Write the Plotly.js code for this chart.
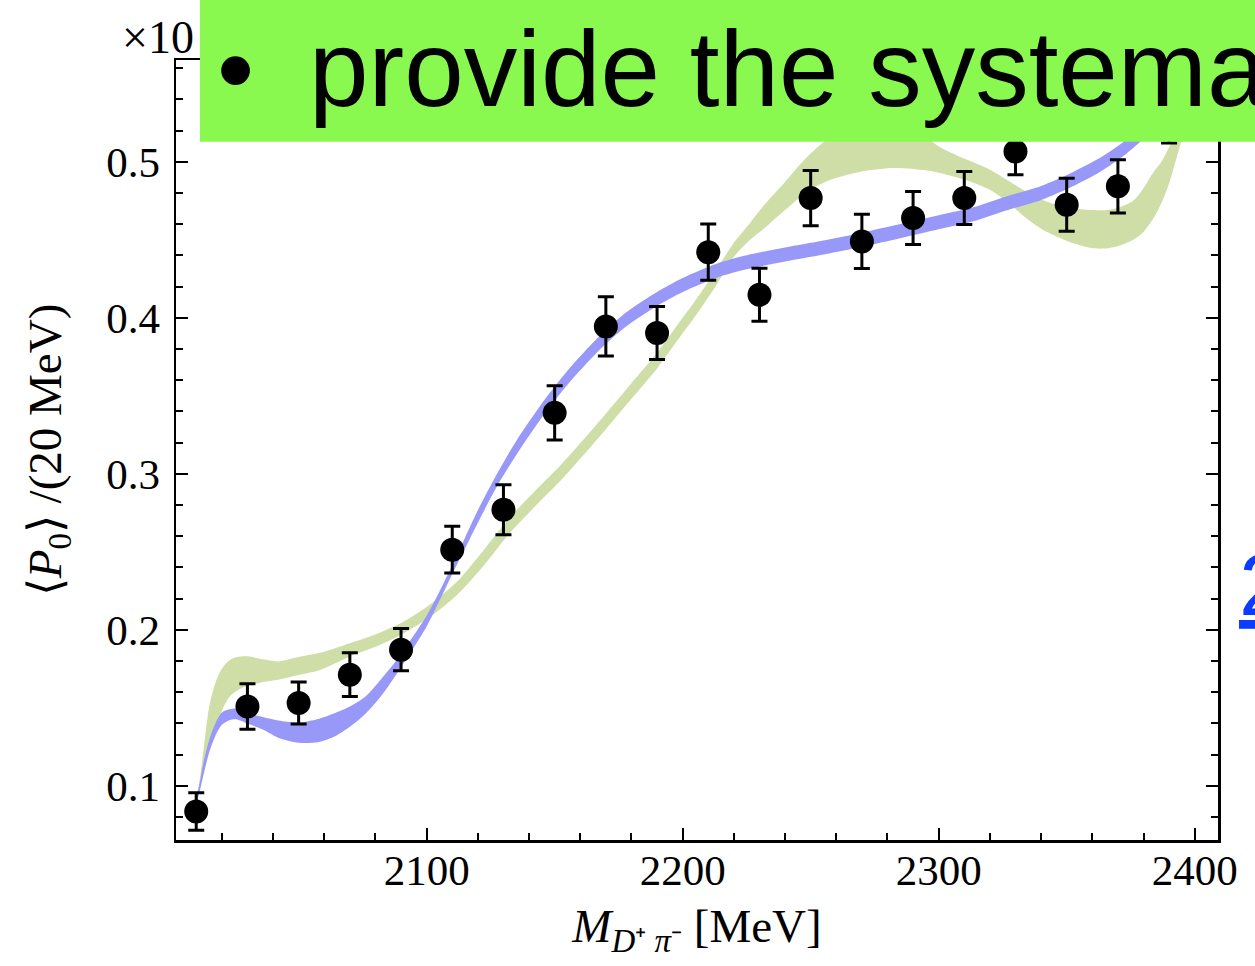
<!DOCTYPE html>
<html>
<head>
<meta charset="utf-8">
<script src="https://cdn.plot.ly/plotly-3.0.1.min.js"></script>
<style>
html, body { margin: 0; padding: 0; background: #ffffff; }
#chart { width: 1255px; height: 966px; }
</style>
</head>
<body>
<div id="chart"></div>
<script>
// ---- data points (invariant mass bins, <P0> per 20 MeV) ----
const massPoints = [2010, 2030, 2050, 2070, 2090, 2110, 2130, 2150, 2170, 2190,
                    2210, 2230, 2250, 2270, 2290, 2310, 2330, 2350, 2370, 2390];
const p0Values = [0.0835, 0.1508, 0.1530, 0.1712, 0.1872, 0.2513, 0.2769, 0.3390, 0.3944, 0.3902,
                  0.4420, 0.4147, 0.4767, 0.4489, 0.4639, 0.4767, 0.5066, 0.4724, 0.4842, 0.5290];
const p0Errors = [0.012, 0.0146, 0.0135, 0.014, 0.0135, 0.015, 0.016, 0.0174, 0.019, 0.017,
                  0.018, 0.017, 0.0177, 0.0174, 0.017, 0.017, 0.015, 0.017, 0.017, 0.017];

// ---- blue band (fit 1): lower / upper edge ----
const blueX = [2009.5, 2011, 2013, 2015, 2017.5, 2020, 2023, 2026, 2030, 2036, 2042, 2050, 2058, 2064,
               2070, 2076, 2082, 2088, 2094, 2100, 2105, 2110, 2115, 2120, 2127, 2135, 2145, 2155,
               2167, 2178, 2190, 2200, 2213, 2225, 2240, 2255, 2270, 2285, 2300, 2315, 2326, 2340,
               2352, 2362, 2372, 2382, 2395, 2410];
const blueLow = [0.086, 0.094, 0.108, 0.121, 0.132, 0.139, 0.142, 0.1425, 0.1398, 0.136, 0.1308, 0.1275, 0.128, 0.1315,
                 0.1378, 0.146, 0.157, 0.171, 0.186, 0.202, 0.2185, 0.2355, 0.252, 0.2685, 0.2905, 0.312, 0.336, 0.357,
                 0.3785, 0.3945, 0.4075, 0.4165, 0.4255, 0.431, 0.436, 0.4405, 0.4455, 0.451, 0.4567, 0.4625, 0.4685, 0.4755,
                 0.484, 0.4925, 0.5035, 0.5175, 0.5375, 0.5595];
const blueHigh = [0.090, 0.099, 0.116, 0.129, 0.140, 0.147, 0.149, 0.1495, 0.1468, 0.144, 0.1418, 0.1405, 0.143, 0.1465,
                  0.1508, 0.157, 0.168, 0.180, 0.194, 0.209, 0.2245, 0.2415, 0.259, 0.2765, 0.2985, 0.321, 0.345, 0.366,
                  0.3875, 0.4035, 0.4165, 0.4255, 0.4345, 0.440, 0.445, 0.4495, 0.4545, 0.460, 0.4657, 0.4715, 0.4775, 0.4845,
                  0.493, 0.5015, 0.5125, 0.5265, 0.5465, 0.5685];

// ---- green band (fit 2): lower / upper edge ----
const greenX = [2009.5, 2011, 2013, 2015, 2017.5, 2020, 2023, 2026, 2030, 2036, 2042, 2050, 2058, 2070, 2080,
                2090, 2102, 2112, 2122, 2132, 2142, 2152, 2161, 2170, 2180, 2190, 2198, 2206, 2213, 2220,
                2226, 2232, 2240, 2248, 2257, 2270, 2283, 2295, 2300, 2310, 2320, 2327, 2334, 2340, 2346,
                2353, 2360, 2366, 2371, 2376, 2380, 2384, 2387, 2390, 2393, 2396, 2400, 2405];
const greenLow = [0.086, 0.096, 0.110, 0.124, 0.137, 0.148, 0.157, 0.161, 0.164, 0.1665, 0.168, 0.171, 0.174, 0.1829, 0.189,
                  0.1968, 0.209, 0.2225, 0.2405, 0.261, 0.2785, 0.295, 0.3115, 0.3285, 0.348, 0.3675, 0.3855, 0.4035, 0.4205, 0.439,
                  0.4495, 0.4575, 0.469, 0.480, 0.488, 0.4938, 0.496, 0.4945, 0.493, 0.4886, 0.482, 0.474, 0.464, 0.457, 0.4521,
                  0.4475, 0.4445, 0.4445, 0.4465, 0.450, 0.455, 0.464, 0.4735, 0.486, 0.503, 0.520, 0.545, 0.580];
const greenHigh = [0.090, 0.100, 0.125, 0.150, 0.166, 0.175, 0.1805, 0.1825, 0.183, 0.181, 0.1797, 0.1825, 0.185, 0.1914, 0.197,
                   0.2043, 0.217, 0.231, 0.2505, 0.271, 0.2885, 0.305, 0.3215, 0.3385, 0.358, 0.3775, 0.3955, 0.4135, 0.4305, 0.448,
                   0.460, 0.4725, 0.487, 0.502, 0.515, 0.527, 0.528, 0.516, 0.5098, 0.502, 0.4949, 0.488, 0.481, 0.476, 0.4724,
                   0.470, 0.469, 0.469, 0.471, 0.475, 0.483, 0.4935, 0.500, 0.5095, 0.520, 0.535, 0.555, 0.590];

// ---- ticks ----
const xTickVals = [2100, 2200, 2300, 2400];
const xTickText = ['2100', '2200', '2300', '2400'];
const yTickVals = [0.1, 0.2, 0.3, 0.4, 0.5];
const yTickText = ['0.1', '0.2', '0.3', '0.4', '0.5'];

const BLUE = 'rgb(152,152,248)';
const GREEN = 'rgb(207,221,166)';
const SERIF = 'Liberation Serif, Times New Roman, serif';
const SANS = 'Liberation Sans, Arial, sans-serif';

const bandLine = { width: 0, shape: 'spline', smoothing: 0.8 };
const traces = [
  { x: greenX, y: greenLow, type: 'scatter', mode: 'lines', line: bandLine, hoverinfo: 'skip', showlegend: false },
  { x: greenX, y: greenHigh, type: 'scatter', mode: 'lines', line: bandLine,
    fill: 'tonexty', fillcolor: GREEN, hoverinfo: 'skip', showlegend: false },
  { x: blueX, y: blueLow, type: 'scatter', mode: 'lines', line: bandLine, hoverinfo: 'skip', showlegend: false },
  { x: blueX, y: blueHigh, type: 'scatter', mode: 'lines', line: bandLine,
    fill: 'tonexty', fillcolor: BLUE, hoverinfo: 'skip', showlegend: false },
  { x: massPoints, y: p0Values, type: 'scatter', mode: 'markers',
    marker: { color: 'black', size: 24 },
    error_y: { type: 'data', array: p0Errors, visible: true, color: 'black', thickness: 3, width: 8 },
    showlegend: false }
];

function axisCommon() {
  return {
    ticks: 'inside', ticklen: 12, tickwidth: 2, tickcolor: 'black',
    showline: true, linewidth: 2.5, linecolor: 'black', mirror: 'allticks',
    showgrid: false, zeroline: false,
    tickfont: { family: SERIF, size: 43, color: 'black' }
  };
}

const xaxis = Object.assign(axisCommon(), {
  range: [2002.1, 2409.1],
  tickmode: 'array', tickvals: xTickVals, ticktext: xTickText,
  minor: { tickmode: 'linear', tick0: 2000, dtick: 20, ticks: 'inside', ticklen: 7, tickwidth: 2, tickcolor: 'black', showgrid: false },
  ticklabelstandoff: -9,
  title: { text: '<i>M</i><sub><i>D</i>⁺ <i>π</i>⁻</sub> [MeV]', font: { family: SERIF, size: 47, color: 'black' }, standoff: 16 }
});
const yaxis = Object.assign(axisCommon(), {
  range: [0.0652, 0.5652],
  tickmode: 'array', tickvals: yTickVals, ticktext: yTickText,
  minor: { tickmode: 'linear', tick0: 0, dtick: 0.02, ticks: 'inside', ticklen: 7, tickwidth: 2, tickcolor: 'black', showgrid: false },
  ticklabelstandoff: 5,
  title: { text: '⟨<i>P</i><sub>0</sub>⟩ /(20 MeV)', font: { family: SERIF, size: 47, color: 'black' }, standoff: 30 }
});

const L = 176, R = 37, T = 60, B = 126, W = 1255, H = 966;
const pw = W - L - R, ph = H - T - B;
const px = v => (v - L) / pw;
const py = v => (H - B - v) / ph;

const layout = {
  width: W, height: H,
  margin: { l: L, r: R, t: T, b: B, autoexpand: false },
  paper_bgcolor: 'white', plot_bgcolor: 'white',
  showlegend: false,
  xaxis: xaxis, yaxis: yaxis,
  shapes: [
    { type: 'rect', xref: 'paper', yref: 'paper', x0: px(200), x1: px(1300), y0: py(141.7), y1: py(-20),
      fillcolor: '#8AF94F', line: { width: 0 }, layer: 'above' }
  ],
  annotations: [
    { xref: 'paper', yref: 'paper', x: px(120), y: py(37), xanchor: 'left', yanchor: 'middle',
      text: '×10', showarrow: false, font: { family: SERIF, size: 46, color: 'black' } },
    { xref: 'paper', yref: 'paper', x: px(215), y: py(69), xanchor: 'left', yanchor: 'middle',
      text: '•', showarrow: false, font: { family: SANS, size: 106, color: 'black' } },
    { xref: 'paper', yref: 'paper', x: px(307), y: py(69), xanchor: 'left', yanchor: 'middle',
      text: 'provide the systematic', showarrow: false, font: { family: SANS, size: 107, color: 'black' } },
    { xref: 'paper', yref: 'paper', x: px(1237), y: py(584), xanchor: 'left', yanchor: 'middle',
      text: '<u>2</u>', showarrow: false, font: { family: SANS, size: 88, color: 'rgb(10,60,255)' } }
  ]
};

Plotly.newPlot('chart', traces, layout, { displayModeBar: false, staticPlot: true });
</script>
</body>
</html>
